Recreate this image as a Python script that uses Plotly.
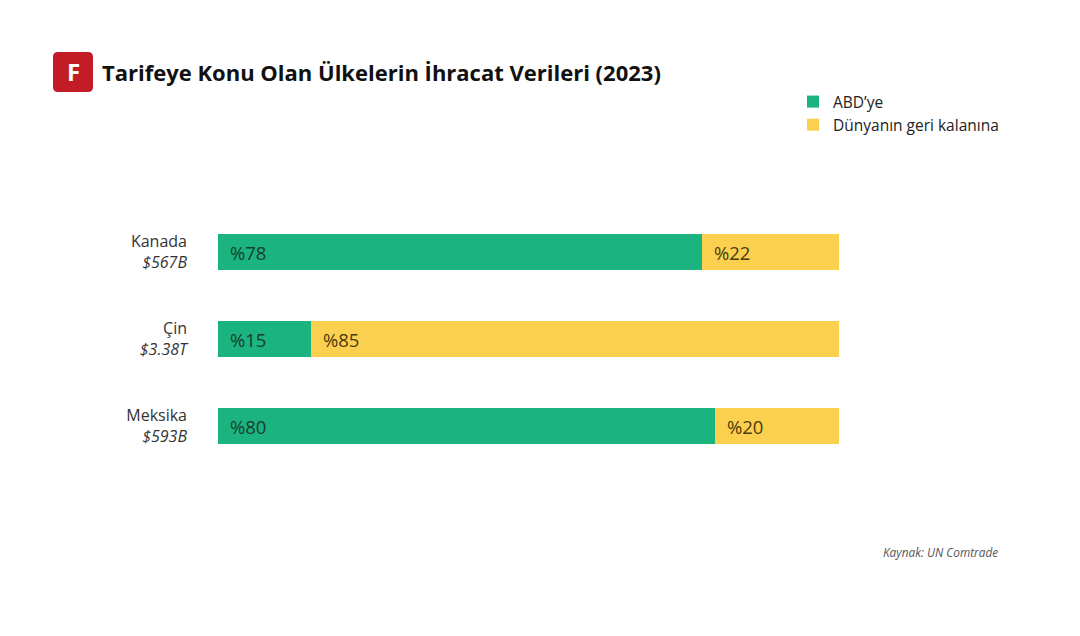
import plotly.graph_objects as go

countries = ["Kanada", "Çin", "Meksika"]
totals = ["$567B", "$3.38T", "$593B"]
to_us = [78, 15, 80]
to_rest = [22, 85, 20]
series_names = ["ABD’ye", "Dünyanın geri kalanına"]

GREEN = "#1BB37F"
YELLOW = "#FCD04F"
FONT = "Open Sans"
W, H, OFF = 1080, 636, 8


def px(x):
    return (x - OFF) / W


def py(y):
    return 1 - (y - OFF) / H


ticklabels = [f"{c}<br><i>{t}</i>" for c, t in zip(countries, totals)]

fig = go.Figure()
fig.add_trace(go.Bar(y=ticklabels, x=to_us, orientation="h", name=series_names[0],
                     marker=dict(color=GREEN, line=dict(width=0)), width=0.425,
                     hoverinfo="skip"))
fig.add_trace(go.Bar(y=ticklabels, x=to_rest, orientation="h", name=series_names[1],
                     marker=dict(color=YELLOW, line=dict(width=0)), width=0.425,
                     hoverinfo="skip"))

annotations = []
for lab, a, b in zip(ticklabels, to_us, to_rest):
    annotations.append(dict(x=0, y=lab, xref="x", yref="y", text=f"%{a}", showarrow=False,
                            xanchor="left", xshift=10, font=dict(size=18.5, color="#173F2E", family=FONT)))
    annotations.append(dict(x=a, y=lab, xref="x", yref="y", text=f"%{b}", showarrow=False,
                            xanchor="left", xshift=10, font=dict(size=18.5, color="#4A3B0E", family=FONT)))

annotations.append(dict(x=px(100), y=py(72), xref="paper", yref="paper",
                        text="<b>Tarifeye Konu Olan Ülkelerin İhracat Verileri (2023)</b>",
                        showarrow=False, xanchor="left", yanchor="middle",
                        font=dict(size=22, color="#111111", family=FONT)))
annotations.append(dict(x=px(73), y=py(72), xref="paper", yref="paper",
                        text="<b>F</b>", showarrow=False, xanchor="center", yanchor="middle",
                        font=dict(size=24, color="white", family=FONT)))
annotations.append(dict(x=px(1000), y=py(552), xref="paper", yref="paper",
                        text="<i>Kaynak: UN Comtrade</i>", showarrow=False, xanchor="right",
                        yanchor="middle", font=dict(size=11.8, color="#555555", family=FONT)))

# rounded logo square
x0, x1, y0, y1, r = 53, 93, 52, 92, 5
pts = [("M", x0 + r, y0), ("L", x1 - r, y0), ("Q", x1, y0), ("", x1, y0 + r), ("L", x1, y1 - r),
       ("Q", x1, y1), ("", x1 - r, y1), ("L", x0 + r, y1), ("Q", x0, y1), ("", x0, y1 - r),
       ("L", x0, y0 + r), ("Q", x0, y0), ("", x0 + r, y0)]
path = " ".join(f"{c} {px(a):.5f},{py(b):.5f}".strip() for c, a, b in pts) + " Z"
shapes = [dict(type="path", xref="paper", yref="paper", path=path,
               fillcolor="#C21D27", line=dict(width=0), layer="above")]

fig.update_layout(
    width=W, height=H,
    margin=dict(l=0, r=0, t=0, b=0),
    paper_bgcolor="white", plot_bgcolor="white",
    barmode="stack",
    showlegend=True,
    legend=dict(x=px(833 - 40), y=py(85), xanchor="left", yanchor="top",
                traceorder="normal", font=dict(size=15.5, color="#222222", family=FONT),
                itemwidth=30, tracegroupgap=0, bgcolor="rgba(0,0,0,0)"),
    xaxis=dict(domain=[px(218), px(839)], range=[0, 100], showgrid=False, zeroline=False,
               showticklabels=False, showline=False, fixedrange=True),
    yaxis=dict(domain=[py(469.5), py(208.5)], autorange="reversed", showgrid=False,
               zeroline=False, showline=False, ticks="", ticklabelstandoff=30,
               tickfont=dict(size=16, color="#333333", family=FONT)),
    annotations=annotations,
    shapes=shapes,
    font=dict(family=FONT),
)

fig.write_html("out.html")
